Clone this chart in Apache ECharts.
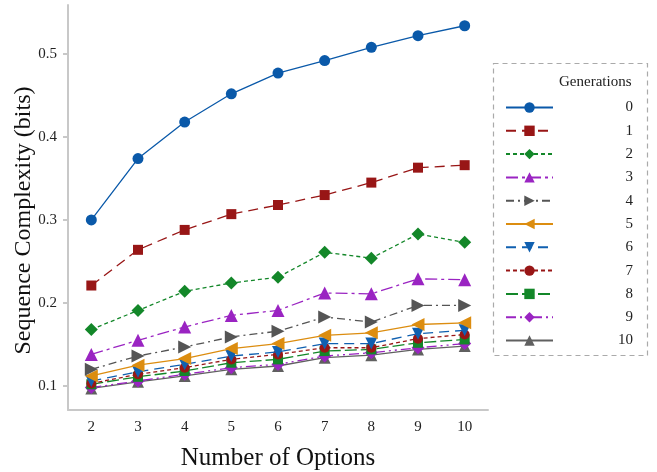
<!DOCTYPE html>
<html>
<head>
<meta charset="utf-8">
<script src="https://cdn.jsdelivr.net/npm/echarts@6/dist/echarts.min.js"></script>
<style>
  html, body { margin: 0; padding: 0; background: #fff; }
  #chart { width: 657px; height: 472px; }
</style>
</head>
<body>
<div id="chart"></div>
<script>
// x categories (number of options)
var options = ['2', '3', '4', '5', '6', '7', '8', '9', '10'];
var yTicks = [0.1, 0.2, 0.3, 0.4, 0.5];

// sequence complexity per generation
var gen0 = [0.300, 0.374, 0.418, 0.452, 0.477, 0.492, 0.508, 0.522, 0.534];
var gen1 = [0.221, 0.264, 0.288, 0.307, 0.318, 0.330, 0.345, 0.363, 0.366];
var gen2 = [0.168, 0.191, 0.214, 0.224, 0.231, 0.261, 0.254, 0.283, 0.273];
var gen3 = [0.138, 0.155, 0.171, 0.185, 0.191, 0.212, 0.211, 0.229, 0.228];
var gen4 = [0.120, 0.136, 0.147, 0.159, 0.166, 0.183, 0.177, 0.197, 0.197];
var gen5 = [0.112, 0.125, 0.133, 0.145, 0.151, 0.161, 0.164, 0.174, 0.176];
var gen6 = [0.106, 0.117, 0.126, 0.136, 0.141, 0.151, 0.151, 0.163, 0.167];
var gen7 = [0.103, 0.114, 0.122, 0.132, 0.138, 0.146, 0.146, 0.157, 0.162];
var gen8 = [0.102, 0.111, 0.118, 0.128, 0.132, 0.142, 0.144, 0.152, 0.156];
var gen9 = [0.098, 0.106, 0.114, 0.122, 0.126, 0.136, 0.140, 0.146, 0.151];
var gen10 = [0.097, 0.105, 0.112, 0.120, 0.124, 0.134, 0.137, 0.144, 0.148];

var genNames = ['0', '1', '2', '3', '4', '5', '6', '7', '8', '9', '10'];
var genData = [gen0, gen1, gen2, gen3, gen4, gen5, gen6, gen7, gen8, gen9, gen10];

// look of each generation: color, marker, rotation, dash
var styles = [
    {color: '#0a59a9', symbol: 'circle', size: 11, rotate: 0, dash: 'solid'},
    {color: '#981616', symbol: 'rect', size: 10, rotate: 0, dash: [10, 6]},
    {color: '#138729', symbol: 'diamond', size: 13, rotate: 0, dash: [4, 3]},
    {color: '#9a24c2', symbol: 'triangle', size: 13, rotate: 0, dash: [12, 4, 3, 4]},
    {color: '#555555', symbol: 'triangle', size: 13, rotate: -90, dash: [8, 4, 2, 4]},
    {color: '#dc8d10', symbol: 'triangle', size: 13, rotate: 90, dash: 'solid'},
    {color: '#1060b0', symbol: 'triangle', size: 12, rotate: 180, dash: [10, 6]},
    {color: '#981616', symbol: 'circle', size: 10, rotate: 0, dash: [4, 3]},
    {color: '#138729', symbol: 'rect', size: 10, rotate: 0, dash: [12, 4]},
    {color: '#9a24c2', symbol: 'diamond', size: 13, rotate: 0, dash: [10, 4, 2, 4, 2, 4]},
    {color: '#606060', symbol: 'triangle', size: 12, rotate: 0, dash: 'solid'}
];

var serif = 'Liberation Serif';

var series = [];
for (let i = 0; i < genNames.length; i++) {
    let s = styles[i];
    series.push({
        name: genNames[i],
        type: 'line',
        data: genData[i],
        symbol: s.symbol,
        symbolSize: s.size,
        symbolRotate: s.rotate,
        z: 20 - i,
        itemStyle: {color: s.color},
        lineStyle: {color: s.color, width: 1.3, type: s.dash},
        emphasis: {disabled: true}
    });
}

var chart = echarts.init(document.getElementById('chart'), null, {renderer: 'canvas'});
var option = {
    backgroundColor: '#ffffff',
    animation: false,
    textStyle: {fontFamily: serif},
    grid: {left: 68, top: 5, right: 169, bottom: 62, outerBoundsMode: 'none', containLabel: false},
    title: {
        text: 'Generations',
        left: 554,
        top: 70,
        textStyle: {fontFamily: serif, fontSize: 15, fontWeight: 'normal', color: '#222'}
    },
    legend: {
        orient: 'vertical',
        left: 500,
        top: 95,
        itemWidth: 47,
        itemHeight: 13,
        itemGap: 8.3,
        data: genNames,
        formatter: '{a|{name}}',
        textStyle: {
            fontFamily: serif,
            fontSize: 15,
            color: '#222',
            rich: {a: {width: 75, align: 'right', fontFamily: serif, fontSize: 15, color: '#222'}}
        }
    },
    graphic: [{
        type: 'rect',
        shape: {x: 493.5, y: 63.5, width: 154, height: 292},
        style: {fill: 'none', stroke: '#aaaaaa', lineWidth: 1.2, lineDash: [5, 4]},
        silent: true
    }],
    xAxis: {
        type: 'category',
        data: options,
        boundaryGap: true,
        name: 'Number of Options',
        nameLocation: 'middle',
        nameGap: 36,
        nameMoveOverlap: false,
        nameTextStyle: {fontFamily: serif, fontSize: 25, color: '#111'},
        axisLine: {lineStyle: {color: '#c8c8c8', width: 2}},
        axisTick: {alignWithLabel: true, length: 6, lineStyle: {color: '#c8c8c8', width: 2}},
        axisLabel: {fontFamily: serif, fontSize: 15, color: '#222', margin: 10},
        splitLine: {show: false}
    },
    yAxis: {
        type: 'value',
        min: 0.071,
        max: 0.559,
        name: 'Sequence Complexity (bits)',
        nameLocation: 'middle',
        nameGap: 32,
        nameMoveOverlap: false,
        nameTextStyle: {fontFamily: serif, fontSize: 24, color: '#111', padding: [0, 26, 0, 0]},
        axisLine: {show: true, lineStyle: {color: '#c8c8c8', width: 2}},
        axisTick: {show: true, length: 5, customValues: yTicks, lineStyle: {color: '#c8c8c8', width: 2}},
        axisLabel: {fontFamily: serif, fontSize: 15, color: '#222', margin: 11, customValues: yTicks},
        splitLine: {show: false}
    },
    series: series
};
chart.setOption(option);
</script>
</body>
</html>
